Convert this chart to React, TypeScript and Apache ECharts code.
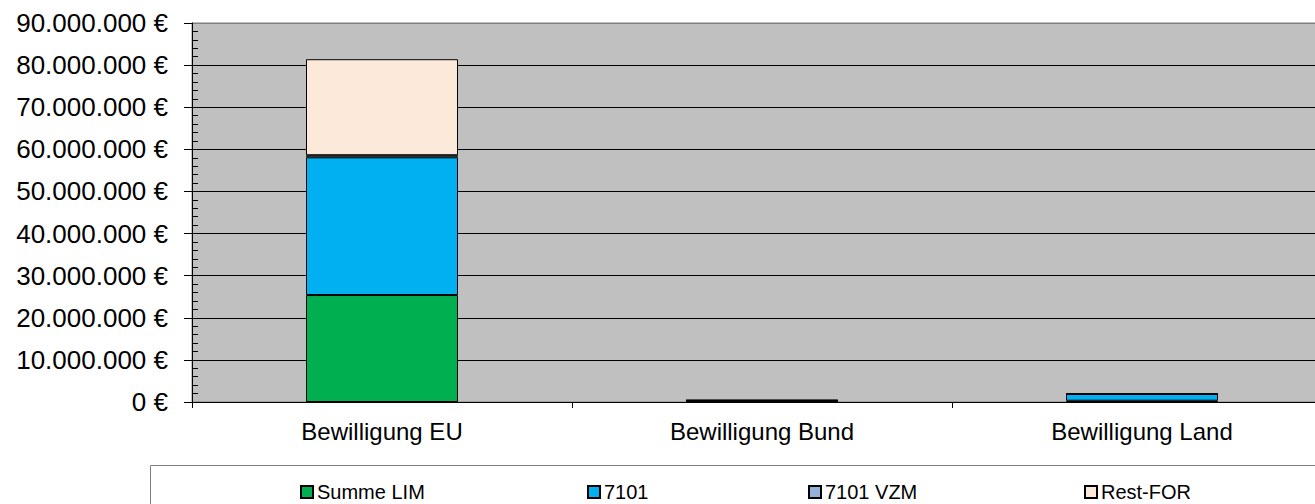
import React, { useEffect, useRef } from "react";
import * as echarts from "echarts";

const categories = ["Bewilligung EU", "Bewilligung Bund", "Bewilligung Land"];
const seriesNames = ["Summe LIM", "7101", "7101 VZM", "Rest-FOR"];
const summeLim = [25400000, 150000, 300000];
const v7101 = [32700000, 200000, 1600000];
const v7101Vzm = [500000, 50000, 20000];
const restFor = [22800000, 50000, 20000];
const seriesColors = ["#00B050", "#00B0F0", "#95B3D7", "#FDE9D9"];
const legendLefts = [300, 587, 808, 1084];

function fmt(v: number): string {
  const s = Math.round(v).toString().replace(/\B(?=(\d{3})+(?!\d))/g, ".");
  return s + " €";
}

export default function App() {
  const ref = useRef<HTMLDivElement>(null);
  useEffect(() => {
    if (!ref.current) return;
    const chart = echarts.init(ref.current, undefined, { renderer: "svg" });
    const values = [summeLim, v7101, v7101Vzm, restFor];
    const font = "Liberation Sans, Arial, sans-serif";
    const splitColors = ["#000", "#000", "#000", "#000", "#000", "#000", "#000", "#000", "#000", "#808080"];
    chart.setOption({
      animation: false,
      textStyle: { fontFamily: font },
      grid: {
        left: 192,
        top: 23,
        right: 8,
        bottom: 102,
        show: true,
        backgroundColor: "#C0C0C0",
        borderColor: "#808080",
        borderWidth: 1,
      },
      legend: seriesNames.map((n, i) => ({
        data: [n],
        left: legendLefts[i],
        top: 482,
        icon: "rect",
        itemWidth: 12,
        itemHeight: 12,
        itemGap: 4,
        padding: 0,
        textStyle: { fontSize: 20, color: "#000", fontFamily: font, padding: [0, 0, 0, -1] },
        selectedMode: false,
      })),
      graphic: [
        {
          type: "rect",
          shape: { x: 150.5, y: 465.5, width: 1250, height: 60 },
          style: { fill: "none", stroke: "#808080", lineWidth: 1 },
          silent: true,
        },
      ],
      xAxis: {
        type: "category",
        data: categories,
        axisLine: { lineStyle: { color: "#000", width: 1 } },
        axisTick: { show: true, length: 6, lineStyle: { color: "#000" } },
        axisLabel: { fontSize: 24, color: "#000", margin: 17, fontFamily: font },
        splitLine: { show: false },
      },
      yAxis: [
        {
          type: "value",
          min: 0,
          max: 90000000,
          interval: 10000000,
          axisLine: { show: true, lineStyle: { color: "#000" } },
          axisTick: { show: true, length: 8, lineStyle: { color: "#000" } },
          axisLabel: { formatter: fmt, fontSize: 26, color: "#000", margin: 24, fontFamily: font },
          splitLine: { show: true, lineStyle: { color: splitColors, width: 1 } },
        },
        {
          type: "value",
          min: 0,
          max: 90000000,
          interval: 10000000,
          position: "left",
          axisLine: { show: false },
          axisTick: { show: false, inside: true, length: 6 },
          minorTick: { show: true, splitNumber: 5, length: 6, lineStyle: { color: "#000" } },
          axisLabel: { show: false },
          splitLine: { show: false },
        },
      ],
      series: seriesNames.map((n, i) => ({
        name: n,
        type: "bar",
        stack: "total",
        barWidth: "40%",
        yAxisIndex: 0,
        data: values[i],
        itemStyle: { color: seriesColors[i], borderColor: "#000", borderWidth: 1 },
      })),
    });
    return () => chart.dispose();
  }, []);
  return (
    <div style={{ position: "fixed", left: 0, top: 0, width: 1315, height: 504, overflow: "hidden", background: "#fff" }}>
      <div ref={ref} style={{ position: "absolute", left: 0, top: 0, width: 1340, height: 504 }} />
    </div>
  );
}
